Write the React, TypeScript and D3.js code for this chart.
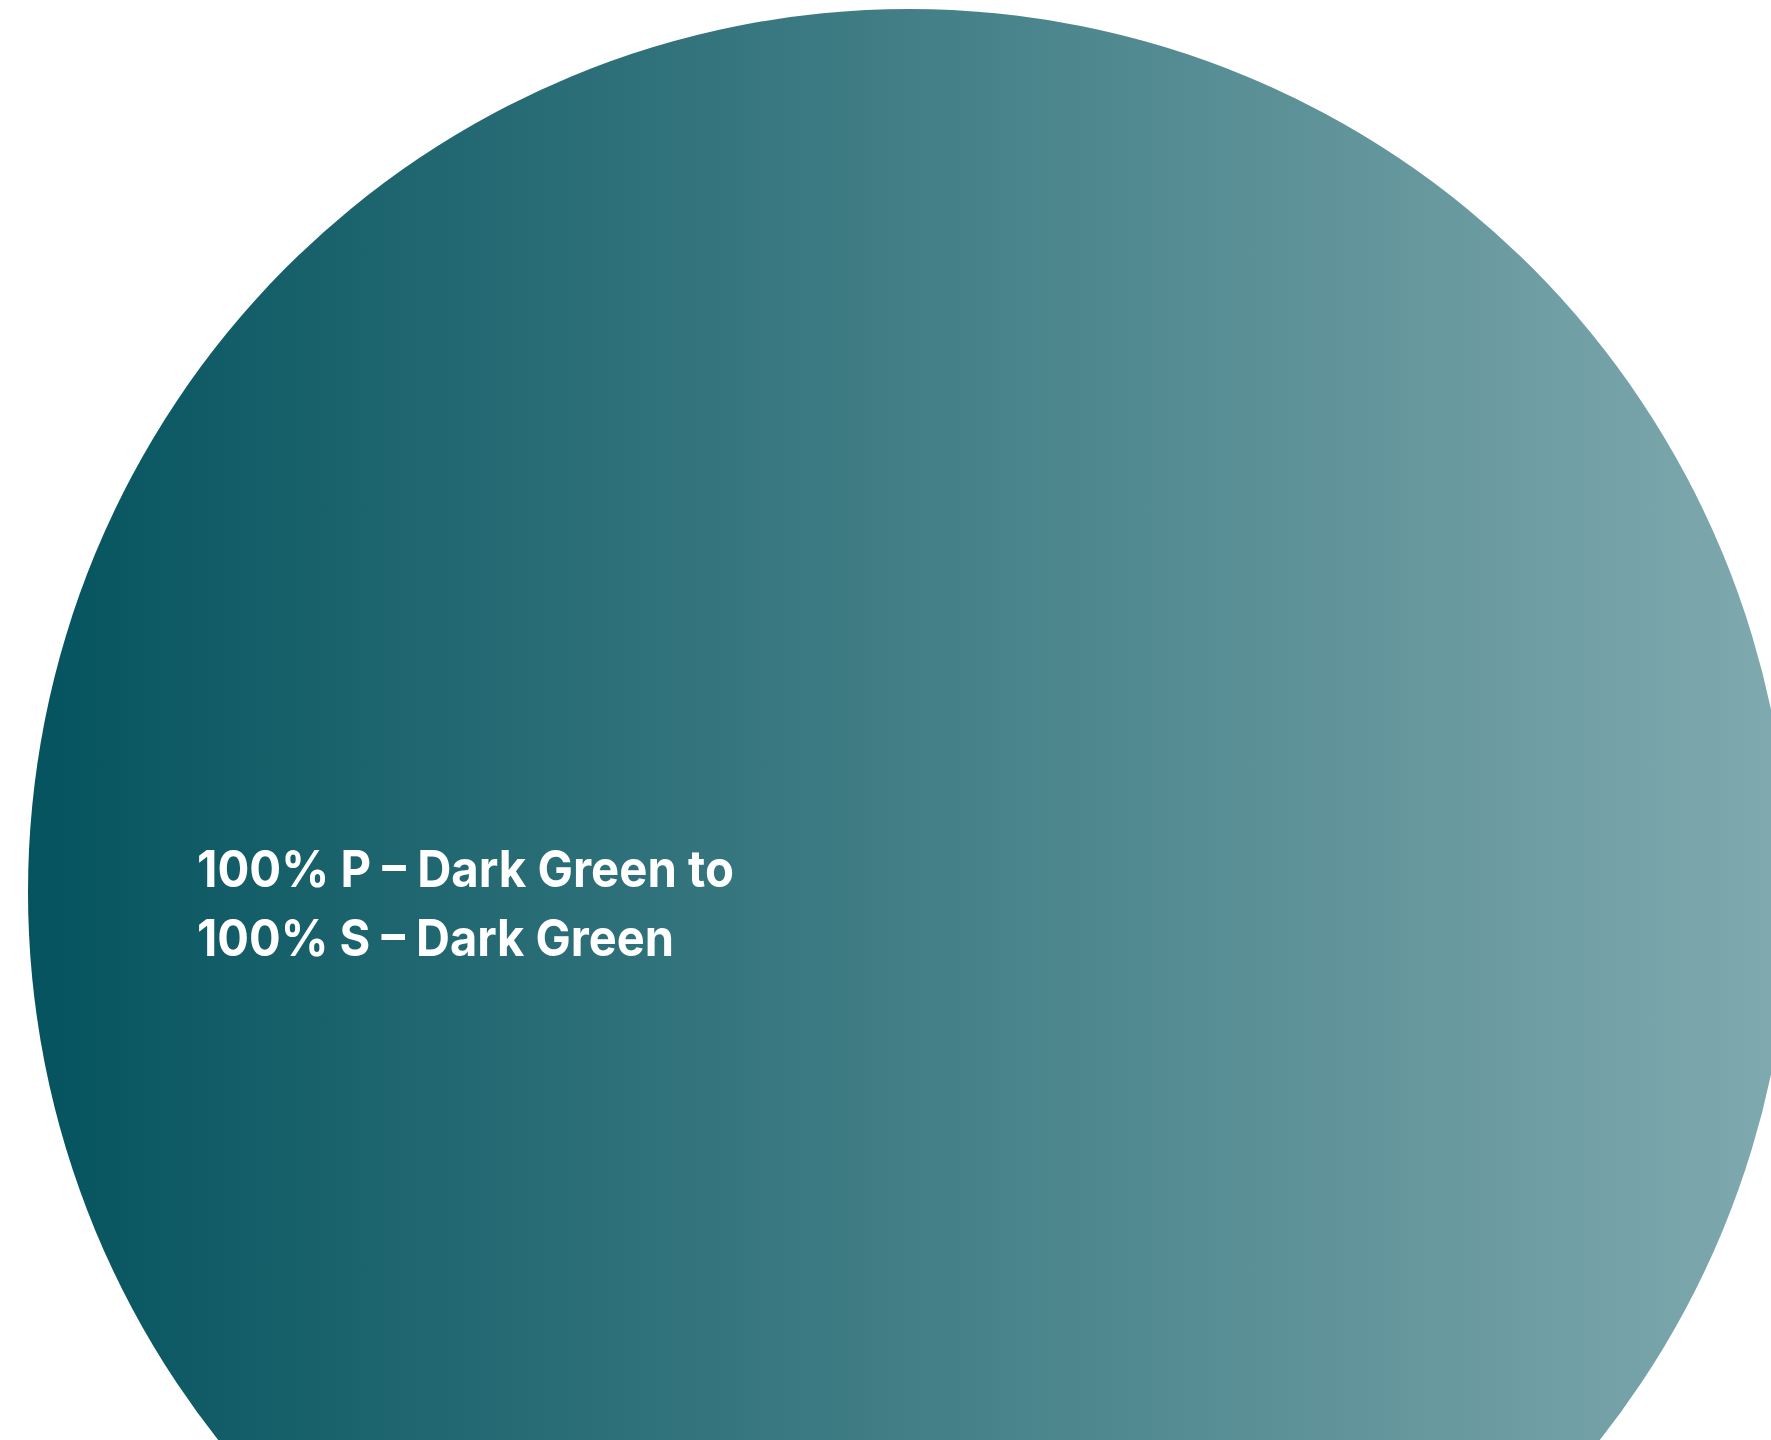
import React from "react";
import * as d3 from "d3";

const W = 1771;
const H = 1440;

const lines: string[] = ["100% P – Dark Green to", "100% S – Dark Green"];
const lineWidths: number[] = [537, 477];
const gradientStops: { offset: number; color: string }[] = [
  { offset: 0, color: "#04535e" },
  { offset: 1, color: "#80aaaf" },
];

export default function App() {
  const cx = 909;
  const cy = 892;
  const rx = 881;
  const ry = 883;
  const x = d3.scaleLinear().domain([0, 1]).range([cx - rx, cx + rx]);
  return (
    <svg
      width={W}
      height={H}
      style={{ position: "absolute", left: 0, top: 0, display: "block" }}
    >
      <defs>
        <linearGradient id="g" gradientUnits="userSpaceOnUse" x1={x(0)} x2={x(1)} y1={0} y2={0}>
          {gradientStops.map((s, i) => (
            <stop key={i} offset={s.offset} stopColor={s.color} />
          ))}
        </linearGradient>
      </defs>
      <rect x={0} y={0} width={W} height={H} fill="#ffffff" />
      <ellipse cx={cx} cy={cy} rx={rx} ry={ry} fill="url(#g)" />
      {lines.map((t, i) => (
        <text
          key={i}
          x={197}
          y={887 + i * 68.5}
          fill="#ffffff"
          fontFamily="Inter, 'Open Sans', sans-serif"
          fontWeight={650}
          fontSize={51}
          textLength={lineWidths[i]}
          lengthAdjust="spacingAndGlyphs"
        >
          {t}
        </text>
      ))}
    </svg>
  );
}
